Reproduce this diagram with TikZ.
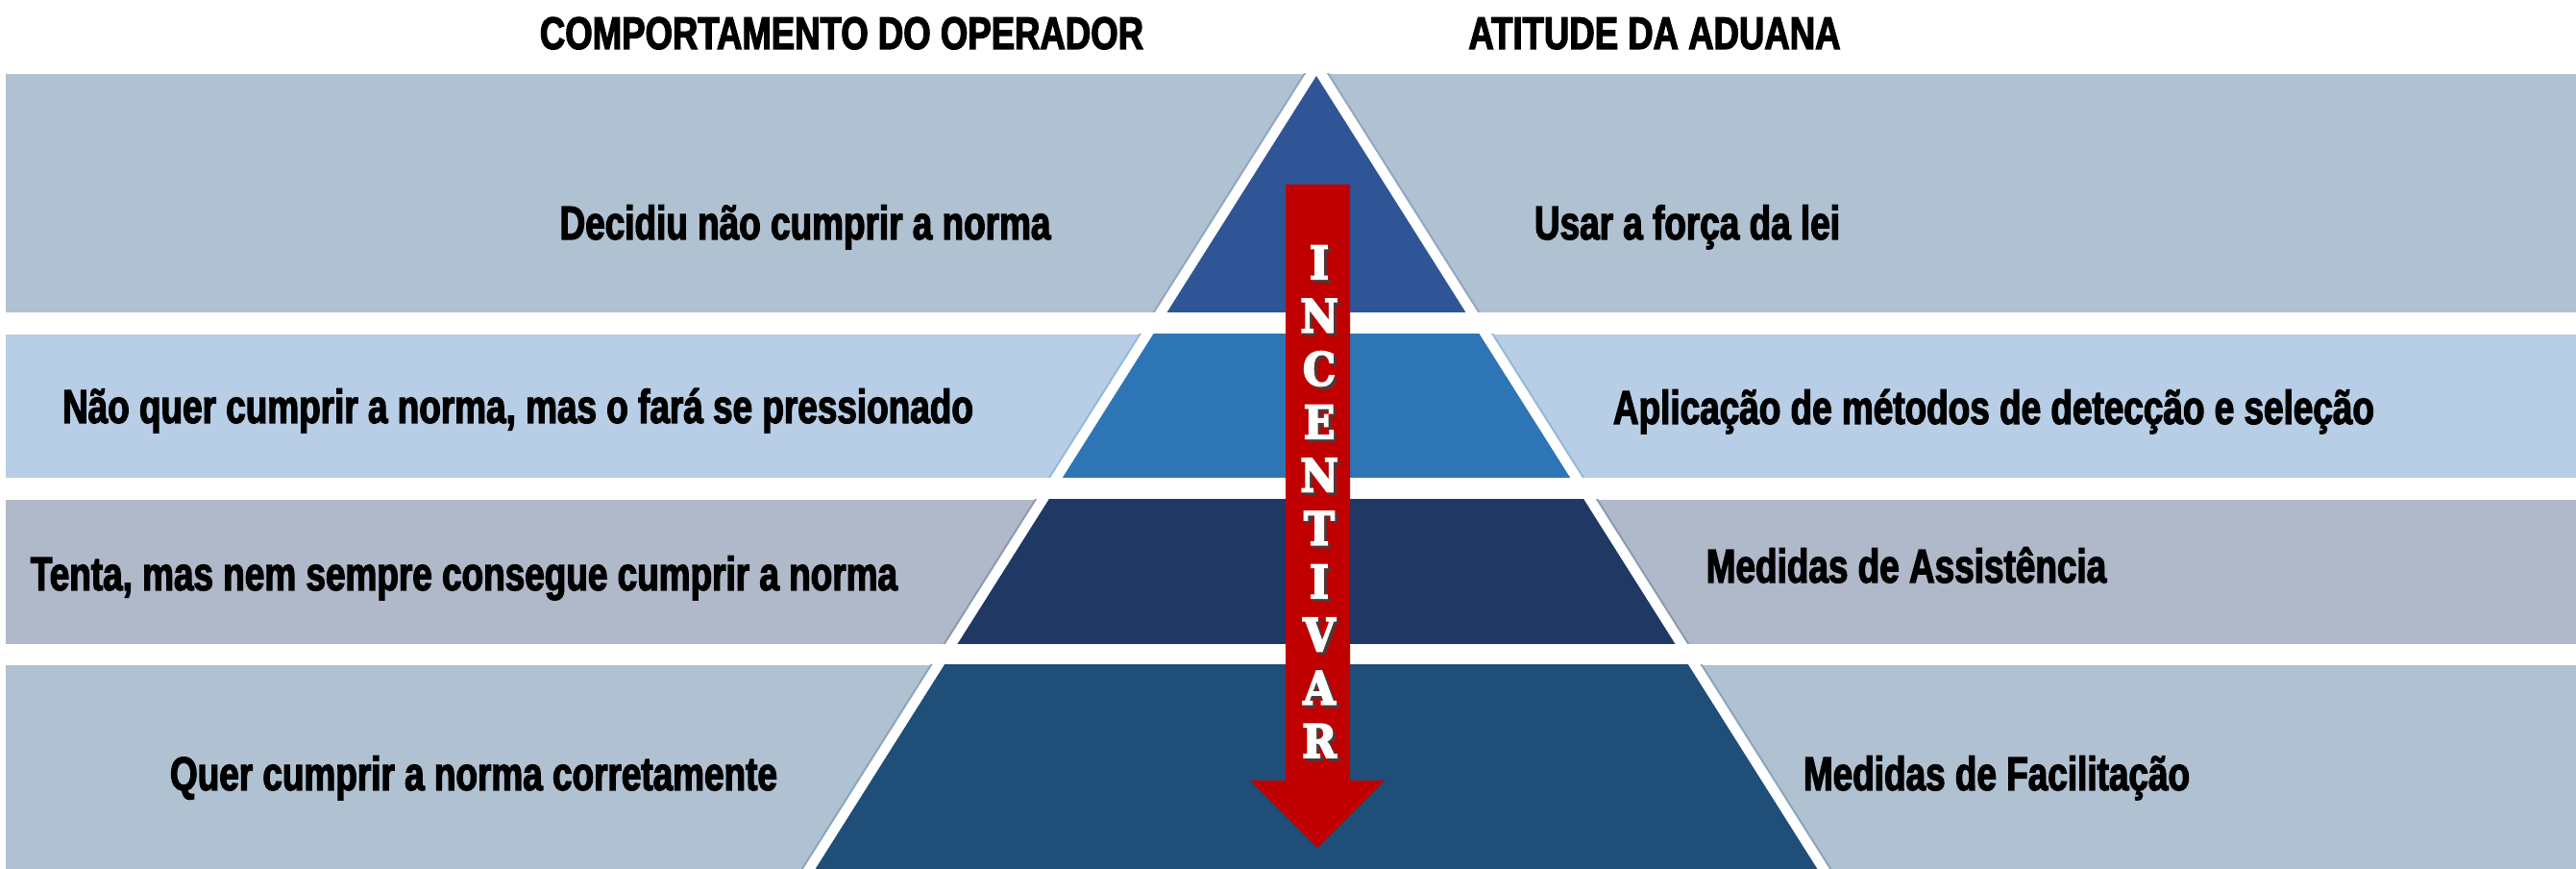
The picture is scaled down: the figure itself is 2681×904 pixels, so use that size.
\documentclass[tikz,border=0pt]{standalone}
\usepackage{fontspec}
\newfontfamily\labelfont[FakeStretch=0.75, BoldFeatures={FakeBold=2.5}]{Liberation Sans}
\newfontfamily\titlefont[FakeStretch=0.77, BoldFeatures={FakeBold=2.5}]{Liberation Sans}
\newfontfamily\slabfont[FakeStretch=0.9, BoldFeatures={FakeBold=4}]{DejaVu Serif}
\definecolor{bandA}{RGB}{176,193,209}
\definecolor{bandB}{RGB}{183,206,230}
\definecolor{bandC}{RGB}{176,185,201}
\definecolor{bandD}{RGB}{176,193,209}
\definecolor{pyrA}{RGB}{47,85,151}
\definecolor{pyrB}{RGB}{46,117,182}
\definecolor{pyrC}{RGB}{32,56,100}
\definecolor{pyrD}{RGB}{31,78,121}
\definecolor{arrowred}{RGB}{192,0,0}

\begin{document}
\begin{tikzpicture}[x=0.01cm, y=-0.01cm,
  label/.style={font=\labelfont\bfseries\fontsize{14}{16}\selectfont, inner sep=0pt, anchor=base},
  title/.style={label, font=\titlefont\bfseries\fontsize{13.5}{15}\selectfont},
  letter/.style={font=\slabfont\bfseries\fontsize{13.5}{14}\selectfont, inner sep=0pt}]
\pgfmathsetmacro{\ax}{1370} % apex
\pgfmathsetmacro{\ay}{79}
\pgfmathsetmacro{\s}{0.632} % half width per unit of depth
\pgfmathsetmacro{\by}{1000}
\pgfmathsetmacro{\bl}{\ax-\s*(\by-\ay)}
\pgfmathsetmacro{\br}{\ax+\s*(\by-\ay)}
\useasboundingbox (0,0) rectangle (2681,904);
% bands and pyramid slices
\foreach \top/\bot/\bc/\pc in {77/325/bandA/pyrA, 348/497/bandB/pyrB, 520/670/bandC/pyrC, 692/904/bandD/pyrD}{
  \fill[\bc] (6,\top) rectangle (2681,\bot);
  \begin{scope}
    \clip (6,\top) rectangle (2681,\bot);
    \draw[\pc!25!\bc, line width=7.2pt] (\ax,\ay) -- (\bl,\by) -- (\br,\by) -- cycle;
    \filldraw[fill=\pc, draw=white, line width=6pt] (\ax,\ay) -- (\bl,\by) -- (\br,\by) -- cycle;
    \fill[\pc] (\ax,\ay) -- (\bl,\by) -- (\br,\by) -- cycle;
  \end{scope}
}
% arrow
\fill[arrowred] (1338,192) -- (1405,192) -- (1405,812) -- (1441,812) -- (1371,882)
  -- (1301,812) -- (1338,812) -- cycle;
\foreach \ch [count=\i] in {I,N,C,E,N,T,I,V,A,R}{
  \node[letter, text=black!75, opacity=0.8] (sh\i) at (1376, {273+55.3*(\i-1)+3}) {\ch};
  \node[letter, text=white] (ltr\i) at (1373, {273+55.3*(\i-1)}) {\ch};
}
% headings
\node[title] (operador) at (876,51) {COMPORTAMENTO DO OPERADOR};
\node[title] (aduana) at (1722,51) {ATITUDE DA ADUANA};
% texts
\node[label] (op1) at (838,249) {Decidiu não cumprir a norma};
\node[label] (ad1) at (1756,249) {Usar a força da lei};
\node[label] (op2) at (539,440) {Não quer cumprir a norma, mas o fará se pressionado};
\node[label] (ad2) at (2075,441) {Aplicação de métodos de detecção e seleção};
\node[label] (op3) at (483,614) {Tenta, mas nem sempre consegue cumprir a norma};
\node[label] (ad3) at (1984,606) {Medidas de Assistência};
\node[label] (op4) at (493,822) {Quer cumprir a norma corretamente};
\node[label] (ad4) at (2078,822) {Medidas de Facilitação};
\end{tikzpicture}
\end{document}
